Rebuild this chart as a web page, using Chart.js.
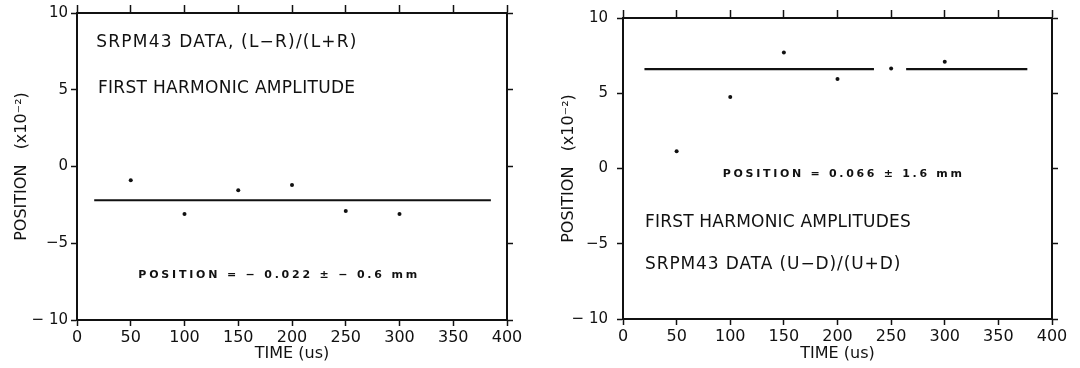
<!DOCTYPE html>
<html>
<head>
<meta charset="utf-8">
<script src="https://cdn.jsdelivr.net/npm/chart.js@4.4.0/dist/chart.umd.min.js"></script>
<style>
  body { margin: 0; background: #fff; }
  #wrap { display: flex; width: 1080px; height: 368px; }
  canvas { display: block; }
</style>
</head>
<body>
<div id="wrap">
  <canvas id="lr" width="540" height="368"></canvas>
  <canvas id="ud" width="540" height="368"></canvas>
</div>
<script>
// sample times (us) and first harmonic amplitudes (x10^-2)
const times = [50, 100, 150, 200, 250, 300];
const lrValues = [-0.9, -3.1, -1.55, -1.2, -2.9, -3.1];
const udValues = [1.15, 4.75, 7.7, 5.95, 6.65, 7.1];

// fitted mean position and the time spans its line is drawn over
const lrFit = -2.2;
const udFit = 6.6;
const lrFitSpans = [[16, 385]];
const udFitSpans = [[20, 234], [264, 377]];

const xMin = 0, xMax = 400, xStep = 50;
const yMin = -10, yMax = 10, yStep = 5;

const INK = '#111';
const FONT = "'DejaVu Sans', sans-serif";

// free text written inside the plot, placed in data units
const notesPlugin = {
  id: 'notes',
  afterDatasetsDraw(chart, args, opts) {
    const { ctx, scales: { x, y } } = chart;
    ctx.save();
    ctx.fillStyle = INK;
    ctx.textBaseline = 'middle';
    ctx.textAlign = 'left';
    opts.items.forEach(n => {
      ctx.font = n.font;
      ctx.letterSpacing = n.spacing || '0px';
      ctx.fillText(n.text, x.getPixelForValue(n.x), y.getPixelForValue(n.y));
    });
    ctx.restore();
  }
};

function yLabel(v) {
  if (v < 0) return (v === -10 ? '\u2212 ' : '\u2212') + Math.abs(v);
  return String(v);
}

function axis(pos, size, extra) {
  const horizontal = pos === 'top' || pos === 'bottom';
  return Object.assign({
    type: 'linear',
    position: pos,
    min: horizontal ? xMin : yMin,
    max: horizontal ? xMax : yMax,
    grid: { drawOnChartArea: false, tickLength: pos === 'top' ? 8 : 6, tickWidth: 1.5, color: INK },
    border: { color: INK, width: 2 },
    ticks: { display: false, stepSize: horizontal ? xStep : yStep },
    afterFit(s) { if (horizontal) s.height = size; else s.width = size; }
  }, extra);
}

function makeChart(id, values, fit, spans, box, notes) {
  const datasets = [{
    data: times.map((t, i) => ({ x: t, y: values[i] })),
    showLine: false,
    pointRadius: 2,
    pointBackgroundColor: INK,
    pointBorderWidth: 0
  }];
  spans.forEach(span => {
    datasets.push({
      data: span.map(t => ({ x: t, y: fit })),
      showLine: true,
      borderColor: INK,
      borderWidth: 2.2,
      pointRadius: 0
    });
  });

  return new Chart(document.getElementById(id), {
    type: 'scatter',
    data: { datasets },
    plugins: [notesPlugin],
    options: {
      responsive: false,
      animation: false,
      layout: { padding: 0 },
      plugins: {
        legend: { display: false },
        tooltip: { enabled: false },
        notes: { items: notes }
      },
      scales: {
        x: axis('bottom', box.bottom, {
          ticks: {
            stepSize: xStep, autoSkip: false, maxRotation: 0, padding: 2,
            color: INK, font: { family: FONT, size: 16 }
          },
          title: {
            display: true, text: 'TIME (us)', color: INK,
            font: { family: FONT, size: 16 }, padding: { top: 0, bottom: 5 }
          }
        }),
        x2: axis('top', box.top),
        y: axis('left', box.left, {
          ticks: {
            stepSize: yStep, padding: box.labelGap, color: INK,
            font: { family: FONT, size: 15 }, callback: yLabel
          },
          title: {
            display: true, text: 'POSITION   (x10\u207B\u00B2)', color: INK,
            font: { family: FONT, size: 16 }, padding: { top: box.titleGap, bottom: 0 }
          }
        }),
        y2: axis('right', box.right)
      }
    }
  });
}

const textFont = '17px ' + FONT;
const handFont = 'bold 11px ' + FONT;

makeChart('lr', lrValues, lrFit, lrFitSpans,
  { left: 77, right: 33, top: 13, bottom: 48, labelGap: 3, titleGap: 12 },
  [
    { text: 'SRPM43 DATA, (L\u2212R)/(L+R)', x: 18, y: 8.05, font: textFont, spacing: '1.2px' },
    { text: 'FIRST HARMONIC AMPLITUDE', x: 19.5, y: 5.1, font: textFont, spacing: '0.3px' },
    { text: 'POSITION = \u2212 0.022 \u00B1 \u2212 0.6 mm', x: 57, y: -7.1, font: handFont, spacing: '2.8px' }
  ]);

makeChart('ud', udValues, udFit, udFitSpans,
  { left: 83, right: 28, top: 16, bottom: 49, labelGap: 9, titleGap: 19 },
  [
    { text: 'POSITION = 0.066 \u00B1 1.6 mm', x: 93, y: -0.36, font: handFont, spacing: '2.7px' },
    { text: 'FIRST HARMONIC AMPLITUDES', x: 20.5, y: -3.6, font: textFont, spacing: '0.2px' },
    { text: 'SRPM43 DATA (U\u2212D)/(U+D)', x: 20.5, y: -6.4, font: textFont, spacing: '0.9px' }
  ]);
</script>
</body>
</html>
